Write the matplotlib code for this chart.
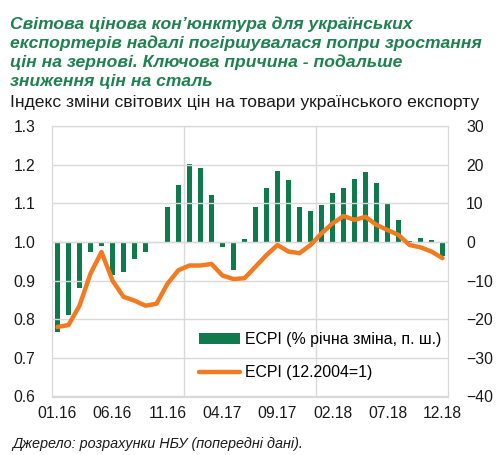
import matplotlib
matplotlib.use('Agg')
import matplotlib.pyplot as plt

plt.rcParams['font.family'] = ['Liberation Sans', 'DejaVu Sans']

months = ['01.16', '02.16', '03.16', '04.16', '05.16', '06.16', '07.16', '08.16', '09.16', '10.16', '11.16', '12.16',
          '01.17', '02.17', '03.17', '04.17', '05.17', '06.17', '07.17', '08.17', '09.17', '10.17', '11.17', '12.17',
          '01.18', '02.18', '03.18', '04.18', '05.18', '06.18', '07.18', '08.18', '09.18', '10.18', '11.18', '12.18']

# ECPI, % annual change (right axis)
ecpi_yoy = [-23.4, -18.9, -11.8, -2.5, -1.0, -8.5, -7.7, -4.4, -2.7, -0.3, 9.1, 14.7,
            20.1, 19.2, 12.1, -1.4, -7.2, 0.8, 9.0, 13.9, 18.3, 16.0, 9.1, 8.1,
            9.6, 12.7, 13.9, 16.3, 18.2, 15.3, 9.8, 5.7, 0.3, 1.1, 0.5, -3.6]

# ECPI index, 12.2004=1 (left axis)
ecpi_idx = [0.780, 0.785, 0.835, 0.918, 0.974, 0.900, 0.858, 0.848, 0.835, 0.840, 0.892, 0.927,
            0.939, 0.939, 0.943, 0.913, 0.904, 0.906, 0.936, 0.966, 0.992, 0.975, 0.971, 0.992,
            1.022, 1.048, 1.067, 1.057, 1.065, 1.044, 1.031, 1.018, 0.992, 0.986, 0.975, 0.958]

green = '#0f7a4b'
orange = '#f27b21'
grid_c = '#d9d9d9'

fig = plt.figure(figsize=(5.04, 4.55), dpi=100)
ax = fig.add_axes([52 / 504, 58.5 / 455, 396 / 504, 270.5 / 455])
ax2 = ax.twinx()

x = list(range(len(months)))

ax2.bar(x, ecpi_yoy, width=0.48, color=green, label='ECPI (% річна зміна, п. ш.)', zorder=2)
ax.plot(x, ecpi_idx, color=orange, lw=3.2, solid_capstyle='round', label='ECPI (12.2004=1)', zorder=3)

# line on top of bars
ax.set_zorder(ax2.get_zorder() + 1)
ax.patch.set_visible(False)

ax.set_ylim(0.6, 1.3)
ax.set_yticks([0.6, 0.7, 0.8, 0.9, 1.0, 1.1, 1.2, 1.3])
ax.set_yticklabels(['0.6', '0.7', '0.8', '0.9', '1.0', '1.1', '1.2', '1.3'])
ax2.set_ylim(-40, 30)
ax2.set_yticks(range(-40, 31, 10))
ax.set_xlim(-0.5, 35.5)
ax.set_xticks(x[::5])
ax.set_xticklabels(months[::5])

ax.grid(axis='y', color=grid_c, lw=1)
for xv in [11.5, 23.5]:
    ax2.axvline(xv, color=grid_c, lw=1, zorder=0)
ax2.axhline(0, color=grid_c, lw=1, zorder=0)

for a in (ax, ax2):
    for s in a.spines.values():
        s.set_color(grid_c)
    a.tick_params(length=0, labelsize=11.3, colors='#1a1a1a')
ax.tick_params(axis='y', pad=12)
ax2.tick_params(axis='y', pad=13)
ax.tick_params(axis='x', pad=7)

h1, l1 = ax2.get_legend_handles_labels()
h2, l2 = ax.get_legend_handles_labels()
ax.legend(h1 + h2, l1 + l2, loc='lower right', bbox_to_anchor=(1.018, 0.008), frameon=False,
          fontsize=11.4, handlelength=2.6, handletextpad=0.3, labelspacing=1.15)

fig.text(10 / 504, 1 - 16 / 455,
         'Світова цінова кон’юнктура для українських\n'
         'експортерів надалі погіршувалася попри зростання\n'
         'цін на зернові. Ключова причина - подальше\n'
         'зниження цін на сталь',
         color='#1f8050', fontsize=12.6, fontweight='bold', fontstyle='italic',
         va='top', ha='left', linespacing=1.3)
fig.text(10 / 504, 1 - 102 / 455, 'Індекс зміни світових цін на товари українського експорту',
         fontsize=12.6, va='center', ha='left', color='#1a1a1a')
fig.text(12 / 504, 1 - 444 / 455, 'Джерело: розрахунки НБУ (попередні дані).',
         fontsize=10.4, fontstyle='italic', va='center', ha='left', color='#1a1a1a')

fig.savefig('out.png', dpi=100)
